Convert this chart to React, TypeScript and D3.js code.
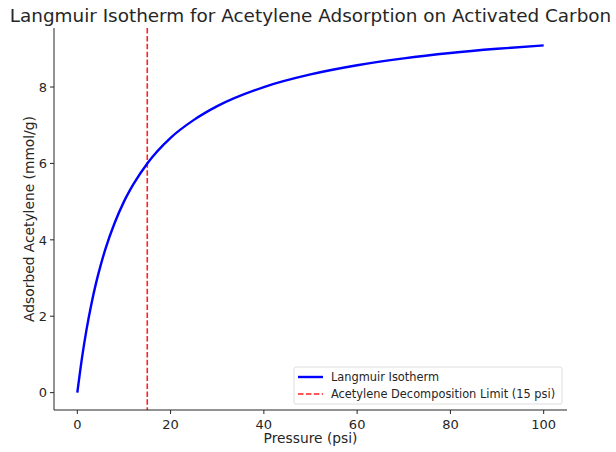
import React from "react";
import * as d3 from "d3";

// Pressure (psi) and adsorbed amount (mmol/g)
const pressure = [0, 1, 2, 3, 4, 5, 6, 8, 10, 12, 15, 20, 25, 30, 40, 50, 60, 70, 80, 90, 100];
const adsorbed = [0, 0.91, 1.67, 2.31, 2.86, 3.33, 3.75, 4.44, 5.0, 5.45, 6.0, 6.67, 7.14, 7.5, 8.0, 8.33, 8.57, 8.75, 8.89, 9.0, 9.09];

const limitPsi = 15;
const xTicks = [0, 20, 40, 60, 80, 100];
const yTicks = [0, 2, 4, 6, 8];

const title = "Langmuir Isotherm for Acetylene Adsorption on Activated Carbon";
const xLabel = "Pressure (psi)";
const yLabel = "Adsorbed Acetylene (mmol/g)";
const legendItems = ["Langmuir Isotherm", "Acetylene Decomposition Limit (15 psi)"];

const W = 616;
const H = 452;
const margin = { top: 28, right: 49, bottom: 42, left: 54 };
const font = "'DejaVu Sans', sans-serif";
const textColor = "#262626";

export default function App() {
  const x = d3.scaleLinear().domain([-5, 105]).range([margin.left, W - margin.right]);
  const y = d3.scaleLinear().domain([-0.4545, 9.545]).range([H - margin.bottom, margin.top]);

  const points = pressure.map((p, i) => [p, adsorbed[i]] as [number, number]);
  const line = d3
    .line<[number, number]>()
    .x((d) => x(d[0]))
    .y((d) => y(d[1]))
    .curve(d3.curveMonotoneX);

  const bottom = H - margin.bottom;
  const lx = 294;
  const ly = 367;

  return (
    <svg width={W} height={H} style={{ position: "absolute", left: 0, top: 0, background: "#fff" }}>
      <text x={(margin.left + W - margin.right) / 2} y={22} textAnchor="middle" fontFamily={font} fontSize={18.4} fill={textColor}>
        {title}
      </text>

      {/* decomposition limit */}
      <line
        x1={x(limitPsi)}
        x2={x(limitPsi)}
        y1={margin.top}
        y2={bottom}
        stroke="#ff2020"
        strokeWidth={1.6}
        strokeDasharray="5.5,2.4"
      />

      <path d={line(points) ?? ""} fill="none" stroke="#0000ff" strokeWidth={2.4} />

      {/* axes spines */}
      <line x1={margin.left} x2={margin.left} y1={margin.top} y2={bottom} stroke="#262626" strokeWidth={1} />
      <line x1={margin.left} x2={W - margin.right} y1={bottom} y2={bottom} stroke="#262626" strokeWidth={1} />

      {xTicks.map((t) => (
        <g key={"x" + t}>
          <line x1={x(t)} x2={x(t)} y1={bottom} y2={bottom + 4} stroke="#262626" />
          <text x={x(t)} y={bottom + 18.5} textAnchor="middle" fontFamily={font} fontSize={13} fill={textColor}>
            {t}
          </text>
        </g>
      ))}
      {yTicks.map((t) => (
        <g key={"y" + t}>
          <line x1={margin.left - 4} x2={margin.left} y1={y(t)} y2={y(t)} stroke="#262626" />
          <text x={margin.left - 7} y={y(t) + 4.7} textAnchor="end" fontFamily={font} fontSize={13} fill={textColor}>
            {t}
          </text>
        </g>
      ))}

      <text x={(margin.left + W - margin.right) / 2} y={H - 9} textAnchor="middle" fontFamily={font} fontSize={13.8} fill={textColor}>
        {xLabel}
      </text>
      <text
        transform={`translate(34, ${(margin.top + bottom) / 2}) rotate(-90)`}
        textAnchor="middle"
        fontFamily={font}
        fontSize={13.8}
        fill={textColor}
      >
        {yLabel}
      </text>

      {/* legend */}
      <rect x={lx} y={ly} width={268} height={37} rx={2} fill="#fff" fillOpacity={0.8} stroke="#ddd" />
      <line x1={lx + 4} x2={lx + 29} y1={ly + 10} y2={ly + 10} stroke="#0000ff" strokeWidth={2.4} />
      <line x1={lx + 4} x2={lx + 29} y1={ly + 27} y2={ly + 27} stroke="#ff2020" strokeWidth={1.6} strokeDasharray="5.5,2.4" />
      {legendItems.map((label, i) => (
        <text key={label} x={lx + 37} y={ly + 14 + i * 17} fontFamily={font} fontSize={11.4} fill={textColor}>
          {label}
        </text>
      ))}
    </svg>
  );
}
